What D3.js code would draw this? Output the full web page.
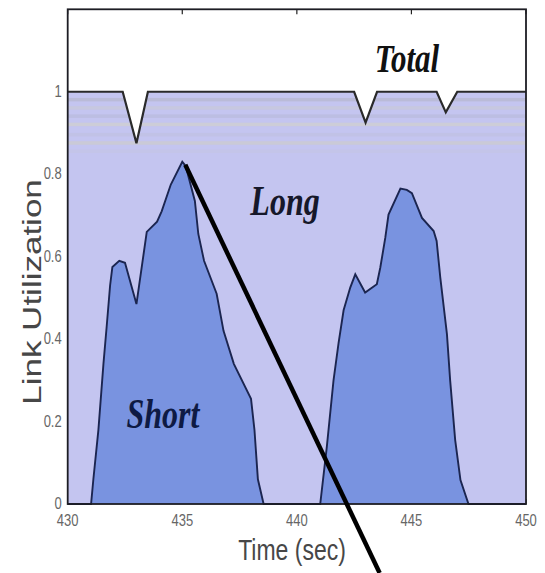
<!DOCTYPE html>
<html>
<head>
<meta charset="utf-8">
<script src="https://cdn.jsdelivr.net/npm/d3@7/dist/d3.min.js"></script>
<style>
  html, body { margin: 0; padding: 0; background: #fff; }
  svg { display: block; }
</style>
</head>
<body>
<svg id="chart" width="545" height="573"></svg>
<script>
// Link utilization over time: total link load and the share carried by short flows.
const xTicks = [430, 435, 440, 445, 450];
const yTicks = [0, 0.2, 0.4, 0.6, 0.8, 1];
const yTickLabels = ["0", "0.2", "0.4", "0.6", "0.8", "1"];

// Total utilization (sec, fraction)
const totalTime = [430, 432.4, 433.0, 433.5, 442.5, 443.0, 443.5, 446.1, 446.5, 447.0, 450];
const totalUtil = [1, 1, 0.875, 1, 1, 0.925, 1, 1, 0.95, 1, 1];

// Utilization carried by short flows (sec, fraction)
const shortTime = [
  430, 431.02, 431.12, 431.34, 431.56, 431.7, 431.85, 431.95, 432.25, 432.5,
  433.0, 433.45, 433.9, 434.1, 434.5, 435.0, 435.15, 435.55, 435.7, 435.95,
  436.5, 436.8, 437.25, 438.0, 438.15, 438.3, 438.55, 441.02,
  441.31, 441.6, 441.82, 442.04, 442.33, 442.55, 442.98, 443.49, 443.64, 443.86,
  444.0, 444.52, 444.8, 445.02, 445.46, 445.97, 446.1, 446.26, 446.55, 446.69,
  446.91, 447.14, 447.49, 450
];
const shortUtil = [
  0, 0, 0.06, 0.18, 0.34, 0.43, 0.53, 0.575, 0.59, 0.585,
  0.485, 0.66, 0.685, 0.71, 0.775, 0.83, 0.82, 0.735, 0.655, 0.59,
  0.51, 0.42, 0.34, 0.255, 0.18, 0.06, 0, 0,
  0.14, 0.3, 0.39, 0.47, 0.525, 0.557, 0.513, 0.533, 0.573, 0.646,
  0.702, 0.765, 0.762, 0.754, 0.694, 0.662, 0.638, 0.549, 0.412, 0.3,
  0.155, 0.058, 0, 0
];

const seriesLabels = { total: "Total", long: "Long", short: "Short" };
const xLabel = "Time (sec)";
const yLabel = "Link Utilization";

const total = totalTime.map((t, i) => ({ t, v: totalUtil[i] }));
const short = shortTime.map((t, i) => ({ t, v: shortUtil[i] }));

const svg = d3.select("#chart");
const plot = { left: 67.7, right: 526, top: 9.3, bottom: 504 };

const x = d3.scaleLinear().domain([430, 450]).range([plot.left, plot.right]);
const y = d3.scaleLinear().domain([0, 1.2]).range([plot.bottom, plot.top]);

const TEXT_STRETCH = 1.3;

// tick marks sit underneath the filled areas, inside the frame
const tickLen = 5;
const ticks = svg.append("g").attr("stroke", "#222").attr("stroke-width", 1.2);
xTicks.forEach(v => {
  ticks.append("line").attr("x1", x(v)).attr("x2", x(v)).attr("y1", plot.top).attr("y2", plot.top + tickLen);
  ticks.append("line").attr("x1", x(v)).attr("x2", x(v)).attr("y1", plot.bottom).attr("y2", plot.bottom - tickLen);
});
yTicks.forEach(v => {
  ticks.append("line").attr("x1", plot.left).attr("x2", plot.left + tickLen).attr("y1", y(v)).attr("y2", y(v));
  ticks.append("line").attr("x1", plot.right).attr("x2", plot.right - tickLen).attr("y1", y(v)).attr("y2", y(v));
});

// areas: total underneath, short on top; what stays visible between them is the long-flow share
const area = d3.area().x(d => x(d.t)).y0(y(0)).y1(d => y(d.v));
const line = d3.line().x(d => x(d.t)).y(d => y(d.v));

svg.append("path").datum(total).attr("d", area).attr("fill", "#c4c5f0");

// faint horizontal banding in the long-flow region
const bands = [0.985, 0.965, 0.945, 0.925, 0.9, 0.88, 0.86];
const bandColors = ["#b4b4c8", "#c9c9d6", "#b8b9d8", "#d4d2c8", "#c0c0e0", "#cfcdc7", "#c4c4e4"];
const clip = svg.append("clipPath").attr("id", "totalClip");
clip.append("path").datum(total).attr("d", area);
const bandG = svg.append("g").attr("clip-path", "url(#totalClip)");
bands.forEach((b, i) => {
  bandG.append("rect")
    .attr("x", plot.left).attr("width", plot.right - plot.left)
    .attr("y", y(b)).attr("height", 3.5)
    .attr("fill", bandColors[i]).attr("opacity", 0.6);
});

svg.append("path").datum(short).attr("d", area).attr("fill", "#7993e0");
svg.append("path").datum(short).attr("d", line)
  .attr("fill", "none").attr("stroke", "#1b2550").attr("stroke-width", 1.9);
svg.append("path").datum(total).attr("d", line)
  .attr("fill", "none").attr("stroke", "#2a2a2a").attr("stroke-width", 2.2);

// frame
svg.append("rect")
  .attr("x", plot.left).attr("y", plot.top)
  .attr("width", plot.right - plot.left).attr("height", plot.bottom - plot.top)
  .attr("fill", "none").attr("stroke", "#1d1d24").attr("stroke-width", 1.8);

// text helper: text is drawn taller than wide
function label(px, py, txt, opts) {
  const s = opts.stretch || TEXT_STRETCH;
  const tf = opts.rotate
    ? `translate(${px},${py}) rotate(${opts.rotate}) scale(${s},1)`
    : `translate(${px},${py}) scale(1,${s})`;
  return svg.append("g").attr("transform", tf)
    .append("text")
    .attr("x", 0).attr("y", 0)
    .attr("text-anchor", opts.anchor || "middle")
    .attr("font-family", opts.family || "'Liberation Sans', Arial, sans-serif")
    .attr("font-size", opts.size)
    .attr("font-weight", opts.weight || "normal")
    .attr("font-style", opts.style || "normal")
    .attr("fill", opts.color || "#555")
    .text(txt);
}

// tick labels
yTicks.forEach((v, i) => {
  label(plot.left - 6, y(v) + 5, yTickLabels[i], { anchor: "end", size: 13, stretch: 1.2, color: "#666" });
});
xTicks.forEach(v => {
  label(x(v), plot.bottom + 22, String(v), { size: 13, stretch: 1.2, color: "#666" });
});

// axis titles
label(292, 560, xLabel, { size: 23, color: "#474747" });
label(41, 292, yLabel, { size: 25, rotate: -90, stretch: 1.4, color: "#474747" });

// series names
const serif = "'Liberation Serif', 'Times New Roman', serif";
label(407, 72, seriesLabels.total, { size: 31, family: serif, weight: "bold", style: "italic", color: "#111" });
label(285, 215, seriesLabels.long, { size: 32, family: serif, weight: "bold", style: "italic", color: "#16182a" });
label(163, 428, seriesLabels.short, { size: 32, family: serif, weight: "bold", style: "italic", color: "#0e1a44" });

// pointer running from the first short-flow peak down past the axis
const peak = short[shortUtil.indexOf(d3.max(shortUtil.slice(0, 27)))];
const p0 = [x(peak.t) + 3, y(peak.v) + 3];
const slope = 2.1;
const endY = 573;
svg.append("line")
  .attr("x1", p0[0]).attr("y1", p0[1])
  .attr("x2", p0[0] + (endY - p0[1]) / slope).attr("y2", endY)
  .attr("stroke", "#000").attr("stroke-width", 4.5);
</script>
</body>
</html>
